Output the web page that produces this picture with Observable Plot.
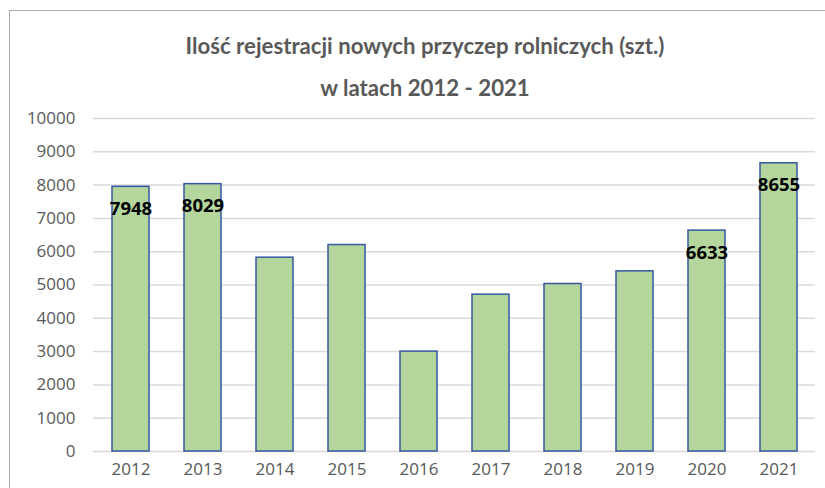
<!DOCTYPE html>
<html>
<head>
<meta charset="utf-8">
<script src="https://cdn.jsdelivr.net/npm/d3@7"></script>
<script src="https://cdn.jsdelivr.net/npm/@observablehq/plot@0.6"></script>
<style>
  html, body { margin: 0; padding: 0; background: #fff; }
  #wrap { position: relative; width: 825px; height: 488px; overflow: hidden; }
  #border { position: absolute; left: 9px; top: 10px; width: 900px; height: 600px; border: 1.5px solid #a9a9a9; box-sizing: border-box; }
  .title { position: absolute; left: 0; width: 850px; text-align: center; font-family: Lato, sans-serif; font-weight: bold; font-size: 22.2px; line-height: 28px; color: #595959; }
  #chart { position: absolute; left: 0; top: 0; }
</style>
</head>
<body>
<div id="wrap">
  <div id="border"></div>
  <div class="title" style="top:32px">Ilość rejestracji nowych przyczep rolniczych (szt.)</div>
  <div class="title" style="top:74px">w latach 2012 - 2021</div>
  <div id="chart"></div>
</div>
<script>
const years = ["2012","2013","2014","2015","2016","2017","2018","2019","2020","2021"];
const values = [7948, 8029, 5820, 6200, 3000, 4710, 5030, 5410, 6633, 8655];
const labeledYears = ["2012","2013","2020","2021"];
const yTicks = [0,1000,2000,3000,4000,5000,6000,7000,8000,9000,10000];

const data = years.map((y, i) => ({year: y, value: values[i]}));
const labeled = data.filter(d => labeledYears.includes(d.year));

const plot = Plot.plot({
  width: 825,
  height: 488,
  marginLeft: 93,
  marginRight: 10,
  marginTop: 118,
  marginBottom: 37,
  style: {background: "transparent", fontFamily: "'Open Sans', sans-serif", fontSize: "17px", color: "#595959"},
  x: {domain: years, paddingInner: 0.49, paddingOuter: 0.245, label: null, tickSize: 0, tickPadding: 11},
  y: {domain: [0, 10000], ticks: yTicks, tickFormat: d => String(d), label: null, tickSize: 0, tickPadding: 18},
  marks: [
    Plot.gridY(yTicks, {stroke: "#d9d9d9", strokeOpacity: 1, strokeWidth: 1.5}),
    Plot.barY(data, {x: "year", y: "value", fill: "#b4d69c", stroke: "#3557a3", strokeWidth: 1.5}),
    Plot.text(labeled, {x: "year", y: "value", text: d => String(d.value), dy: 22, fill: "#000", fontWeight: "bold", fontSize: 18.5, fontFamily: "'Open Sans', sans-serif"})
  ]
});
document.getElementById("chart").appendChild(plot);
</script>
</body>
</html>
